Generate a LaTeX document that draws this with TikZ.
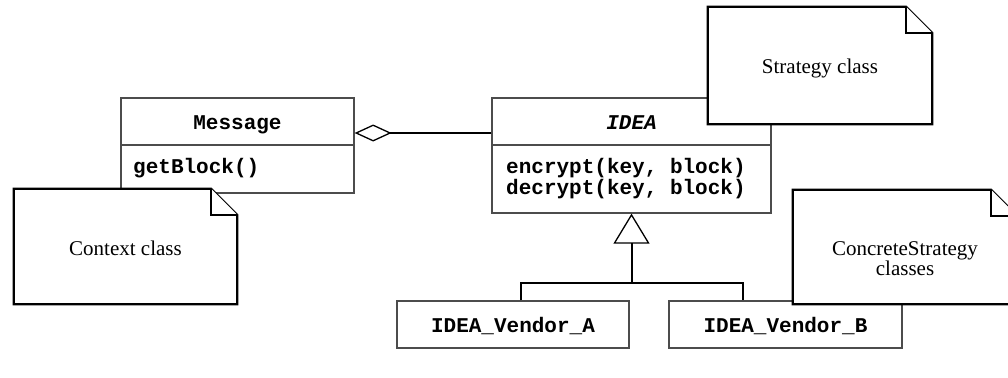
\documentclass[tikz,border=0pt]{standalone}
\usepackage{fontspec}
\setmainfont{Liberation Serif}
\setmonofont{Liberation Mono}
\usetikzlibrary{arrows.meta}
\newcommand\dognote[1]{%
  \draw[noteline] (#1.north west) -- ([xshift=-26pt]#1.north east) -- ([yshift=-26pt]#1.north east) -- (#1.south east) -- (#1.south west) -- cycle;
  \draw[noteline] ([xshift=-26pt]#1.north east) -- ([xshift=-26pt,yshift=-26pt]#1.north east) -- ([yshift=-26pt]#1.north east);
}
\begin{document}
\begin{tikzpicture}[x=1pt,y=-1pt,
  classbox/.style={rectangle, draw=black!70, line width=1.3pt, fill=white, inner sep=0pt},
  notebox/.style={rectangle, inner sep=0pt},
  noteline/.style={draw=black, line width=2.2pt, fill=white, line join=miter},
  conn/.style={draw=black, line width=2pt},
  divider/.style={draw=black!70, line width=1.3pt},
  cname/.style={inner sep=0pt, anchor=base, font=\fontsize{21}{21}\selectfont\ttfamily\bfseries},
  cmeth/.style={inner sep=0pt, anchor=base west, align=left, font=\fontsize{21}{21}\selectfont\ttfamily\bfseries},
  ntext/.style={inner sep=0pt, anchor=base, align=center, font=\fontsize{21}{20}\selectfont}
]
\useasboundingbox (0,0) rectangle (1008,377);

% Message class
\node[classbox, minimum width=233pt, minimum height=95pt] (msg) at (237.5,145.5) {};
\draw[divider] (msg.west |- 0,145) -- (msg.east |- 0,145);
\node[cname] (msgname) at (237.5,129) {Message};
\node[cmeth] (msgmeth) at (133,173) {getBlock()};

% Context note
\node[notebox, minimum width=223pt, minimum height=115pt] (ctx) at (125.5,246.5) {};
\dognote{ctx}
\node[ntext] (ctxtext) at (125.5,255) {Context class};

% IDEA class
\node[classbox, minimum width=279pt, minimum height=115pt] (idea) at (631.5,155.5) {};
\draw[divider] (idea.west |- 0,145) -- (idea.east |- 0,145);
\node[cname, font=\fontsize{21}{21}\selectfont\ttfamily\bfseries\itshape] (ideaname) at (631.5,129) {IDEA};
\node[cmeth] (ideameth1) at (506,173) {encrypt(key, block)};
\node[cmeth] (ideameth2) at (506,194) {decrypt(key, block)};

% Strategy note
\node[notebox, minimum width=224pt, minimum height=117pt] (strat) at (820,65.5) {};
\dognote{strat}
\node[ntext] (strattext) at (820,74) {Strategy class};

% Vendors
\node[classbox, minimum width=232pt, minimum height=47pt] (va) at (513,324.5) {};
\node[cname] (vaname) at (513,332) {IDEA\_Vendor\_A};
\node[classbox, minimum width=233pt, minimum height=47pt] (vb) at (785.5,324.5) {};
\node[cname] (vbname) at (785.5,332) {IDEA\_Vendor\_B};

% ConcreteStrategy note
\node[notebox, minimum width=224pt, minimum height=114pt] (conc) at (905,247) {};
\dognote{conc}
\node[ntext] (conctext) at (905,275) {ConcreteStrategy\\classes};

% aggregation
\coordinate (aggy) at (0,133);
\draw[conn, -{Diamond[open, length=37pt, width=17pt, line width=1.3pt]}] (idea.west |- aggy) -- (msg.east |- aggy);

% generalization
\coordinate (bus) at (631.5,283);
\coordinate (busa) at (521,283);
\coordinate (busb) at (743,283);
\draw[conn] (va.north -| busa) -- (busa) -- (busb) -- (vb.north -| busb);
\draw[conn, -{Triangle[open, length=30pt, width=36pt, line width=1.3pt]}] (bus) -- (idea.south);
\end{tikzpicture}
\end{document}
